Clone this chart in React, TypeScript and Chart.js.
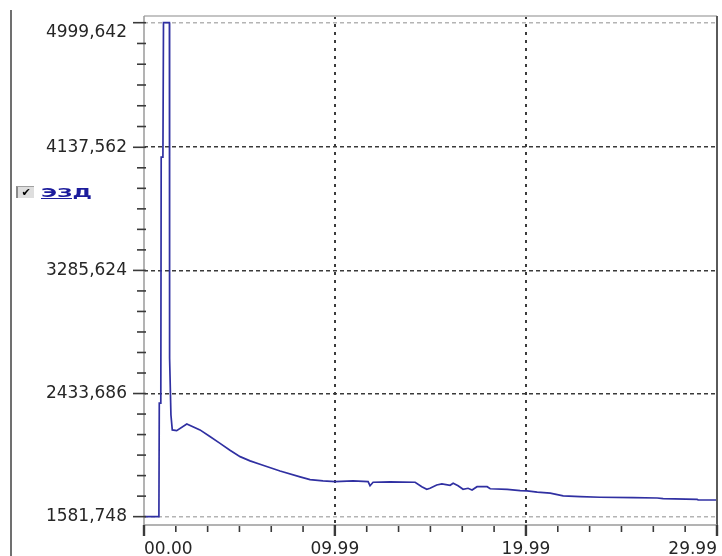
import React, { useEffect, useRef } from 'react';
import { Chart, registerables } from 'chart.js';

Chart.register(...registerables);

// ---- data ----
const SERIES_LABEL = 'ЭЗД';
const TIMES = [0, 0.78, 0.8, 0.88, 0.9, 0.99, 1.02, 1.33, 1.34, 1.41, 1.48, 1.71, 2.24, 2.93, 3.45, 3.98, 4.5, 5.03, 5.55, 6.07, 7.12, 8.17, 8.69, 9.37, 10.0, 10.94, 11.73, 11.83, 11.99, 12.88, 14.19, 14.54, 14.8, 14.97, 15.32, 15.59, 16.02, 16.18, 16.44, 16.7, 16.96, 17.17, 17.43, 17.96, 18.12, 19.01, 19.69, 20.05, 20.58, 21.26, 21.94, 22.83, 23.87, 25.6, 26.86, 27.17, 28.95, 29.0, 29.99];
const VALUES = [1581.748, 1581.748, 2368, 2368, 4070, 4070, 4999.642, 4999.642, 2680, 2285, 2182, 2177, 2223, 2182, 2136, 2089, 2041, 1997, 1968, 1944, 1898, 1857, 1838, 1829, 1824, 1829, 1824, 1796, 1820, 1822, 1820, 1789, 1771, 1778, 1801, 1808, 1799, 1813, 1796, 1771, 1778, 1766, 1789, 1789, 1775, 1771, 1762, 1760, 1751, 1744, 1725, 1720, 1716, 1713, 1711, 1706, 1702, 1697, 1697];

const Y_TICKS = [1581.748, 2433.686, 3285.624, 4137.562, 4999.642];
const Y_LABELS = ['1581,748', '2433,686', '3285,624', '4137,562', '4999,642'];
const X_TICKS = [0, 9.99, 19.99, 29.99];
const X_LABELS = ['00.00', '09.99', '19.99', '29.99'];
const MINOR_DIVISIONS = 6;
const Y_MIN = 1524;
const Y_MAX = 5046;
const X_MIN = 0;
const X_MAX = 29.99;

const TICK_FONT = { family: '"DejaVu Sans", sans-serif', size: 17 };
const TEXT_COLOR = '#262626';

function seg(ctx: CanvasRenderingContext2D, x1: number, y1: number, x2: number, y2: number, color: string, w: number) {
  ctx.beginPath();
  ctx.strokeStyle = color;
  ctx.lineWidth = w;
  ctx.setLineDash([]);
  ctx.moveTo(x1, y1);
  ctx.lineTo(x2, y2);
  ctx.stroke();
}

const framePlugin = {
  id: 'frameAndTicks',
  afterDraw(chart: any) {
    const { ctx, chartArea: a, scales } = chart;
    const ys = scales.y;
    const xs = scales.x;
    ctx.save();
    // outer panel line
    seg(ctx, 11, 10, 11, chart.height, '#707070', 2);
    // frame
    seg(ctx, a.left, a.top, a.right, a.top, '#c4c4c4', 2);
    seg(ctx, a.right, a.top, a.right, a.bottom + 2, '#5a5a5a', 2);
    seg(ctx, a.left, a.top, a.left, a.bottom, '#9a9a9a', 1.5);
    seg(ctx, a.left, a.bottom, a.right, a.bottom, '#9a9a9a', 1.5);
    // y ticks
    for (let i = 0; i < Y_TICKS.length; i++) {
      const py = ys.getPixelForValue(Y_TICKS[i]);
      seg(ctx, a.left - 11, py, a.left + 2, py, '#3a3a3a', 1.6);
      if (i < Y_TICKS.length - 1) {
        const step = (Y_TICKS[i + 1] - Y_TICKS[i]) / MINOR_DIVISIONS;
        for (let k = 1; k < MINOR_DIVISIONS; k++) {
          const my = ys.getPixelForValue(Y_TICKS[i] + k * step);
          seg(ctx, a.left - 7, my, a.left + 2, my, '#3a3a3a', 1.6);
        }
      }
    }
    // x ticks
    for (let i = 0; i < X_TICKS.length; i++) {
      const px = xs.getPixelForValue(X_TICKS[i]);
      seg(ctx, px, a.bottom, px, a.bottom + 11, '#3a3a3a', 2.4);
      if (i < X_TICKS.length - 1) {
        const step = (X_TICKS[i + 1] - X_TICKS[i]) / MINOR_DIVISIONS;
        for (let k = 1; k < MINOR_DIVISIONS; k++) {
          const mx = xs.getPixelForValue(X_TICKS[i] + k * step);
          seg(ctx, mx, a.bottom + 1, mx, a.bottom + 7, '#3a3a3a', 1.6);
        }
      }
    }
    ctx.restore();
  },
};

export default function App() {
  const ref = useRef<HTMLCanvasElement | null>(null);

  useEffect(() => {
    if (!ref.current) return;
    const chart = new Chart(ref.current, {
      type: 'line',
      data: {
        datasets: [
          {
            label: SERIES_LABEL,
            data: TIMES.map((t, i) => ({ x: t, y: VALUES[i] })),
            borderColor: '#3030a2',
            borderWidth: 1.7,
            pointRadius: 0,
            tension: 0,
            fill: false,
          },
        ],
      },
      options: {
        animation: false,
        responsive: false,
        devicePixelRatio: 1,
        layout: { padding: { top: 16, right: 5, left: 0, bottom: 0 } },
        plugins: { legend: { display: false }, tooltip: { enabled: false } },
        scales: {
          x: {
            type: 'linear',
            min: X_MIN,
            max: X_MAX,
            afterBuildTicks: (s: any) => {
              s.ticks = X_TICKS.map((v) => ({ value: v }));
            },
            afterFit: (s: any) => {
              s.height = 31;
              s.paddingLeft = 0;
              s.paddingRight = 0;
              s.paddingTop = 0;
              s.paddingBottom = 0;
            },
            ticks: {
              callback: (_v: any, i: number) => X_LABELS[i],
              align: 'inner',
              autoSkip: false,
              maxRotation: 0,
              padding: 4,
              font: TICK_FONT,
              color: TEXT_COLOR,
            },
            grid: {
              color: (c: any) => (c.index === 0 || c.index === X_TICKS.length - 1 ? 'transparent' : '#3c3c3c'),
              lineWidth: 2,
              drawTicks: true,
              tickLength: 10,
              tickColor: 'transparent',
            },
            border: { display: false, dash: [3, 5] },
          },
          y: {
            type: 'linear',
            min: Y_MIN,
            max: Y_MAX,
            afterBuildTicks: (s: any) => {
              s.ticks = Y_TICKS.map((v) => ({ value: v }));
            },
            afterFit: (s: any) => {
              s.width = 144;
              s.paddingLeft = 0;
              s.paddingRight = 0;
              s.paddingTop = 0;
              s.paddingBottom = 0;
            },
            ticks: {
              callback: (_v: any, i: number) => (i === Y_TICKS.length - 1 ? ['', Y_LABELS[i]] : Y_LABELS[i]),
              autoSkip: false,
              padding: 3,
              font: TICK_FONT,
              color: TEXT_COLOR,
            },
            grid: {
              color: (c: any) => (c.index === 0 || c.index === Y_TICKS.length - 1 ? '#b4b4b4' : '#3a3a3a'),
              lineWidth: 1.6,
              drawTicks: true,
              tickLength: 14,
              tickColor: 'transparent',
            },
            border: { display: false, dash: [4, 3] },
          },
        },
      },
      plugins: [framePlugin],
    } as any);
    return () => chart.destroy();
  }, []);

  return (
    <div style={{ position: 'absolute', left: 0, top: 0, width: 722, height: 556, background: '#fff' }}>
      <canvas ref={ref} width={722} height={556} style={{ display: 'block' }} />
      <div
        style={{
          position: 'absolute',
          left: 16,
          top: 186,
          width: 18,
          height: 12,
          background: '#dedede',
          borderLeft: '2px solid #8a8a8a',
          borderTop: '1px solid #a0a0a0',
          boxSizing: 'border-box',
          fontFamily: '"DejaVu Sans", sans-serif',
          fontSize: 11,
          lineHeight: '11px',
          fontWeight: 700,
          color: '#000',
          textAlign: 'center',
        }}
      >
        ✔
      </div>
      <div
        style={{
          position: 'absolute',
          left: 41,
          top: 186,
          fontFamily: '"DejaVu Sans", sans-serif',
          fontSize: 12.5,
          lineHeight: '13px',
          fontWeight: 700,
          color: '#1c1c9c',
          textDecoration: 'underline',
          transform: 'scaleX(1.75)',
          transformOrigin: 'left top',
          whiteSpace: 'nowrap',
        }}
      >
        {SERIES_LABEL}
      </div>
    </div>
  );
}
